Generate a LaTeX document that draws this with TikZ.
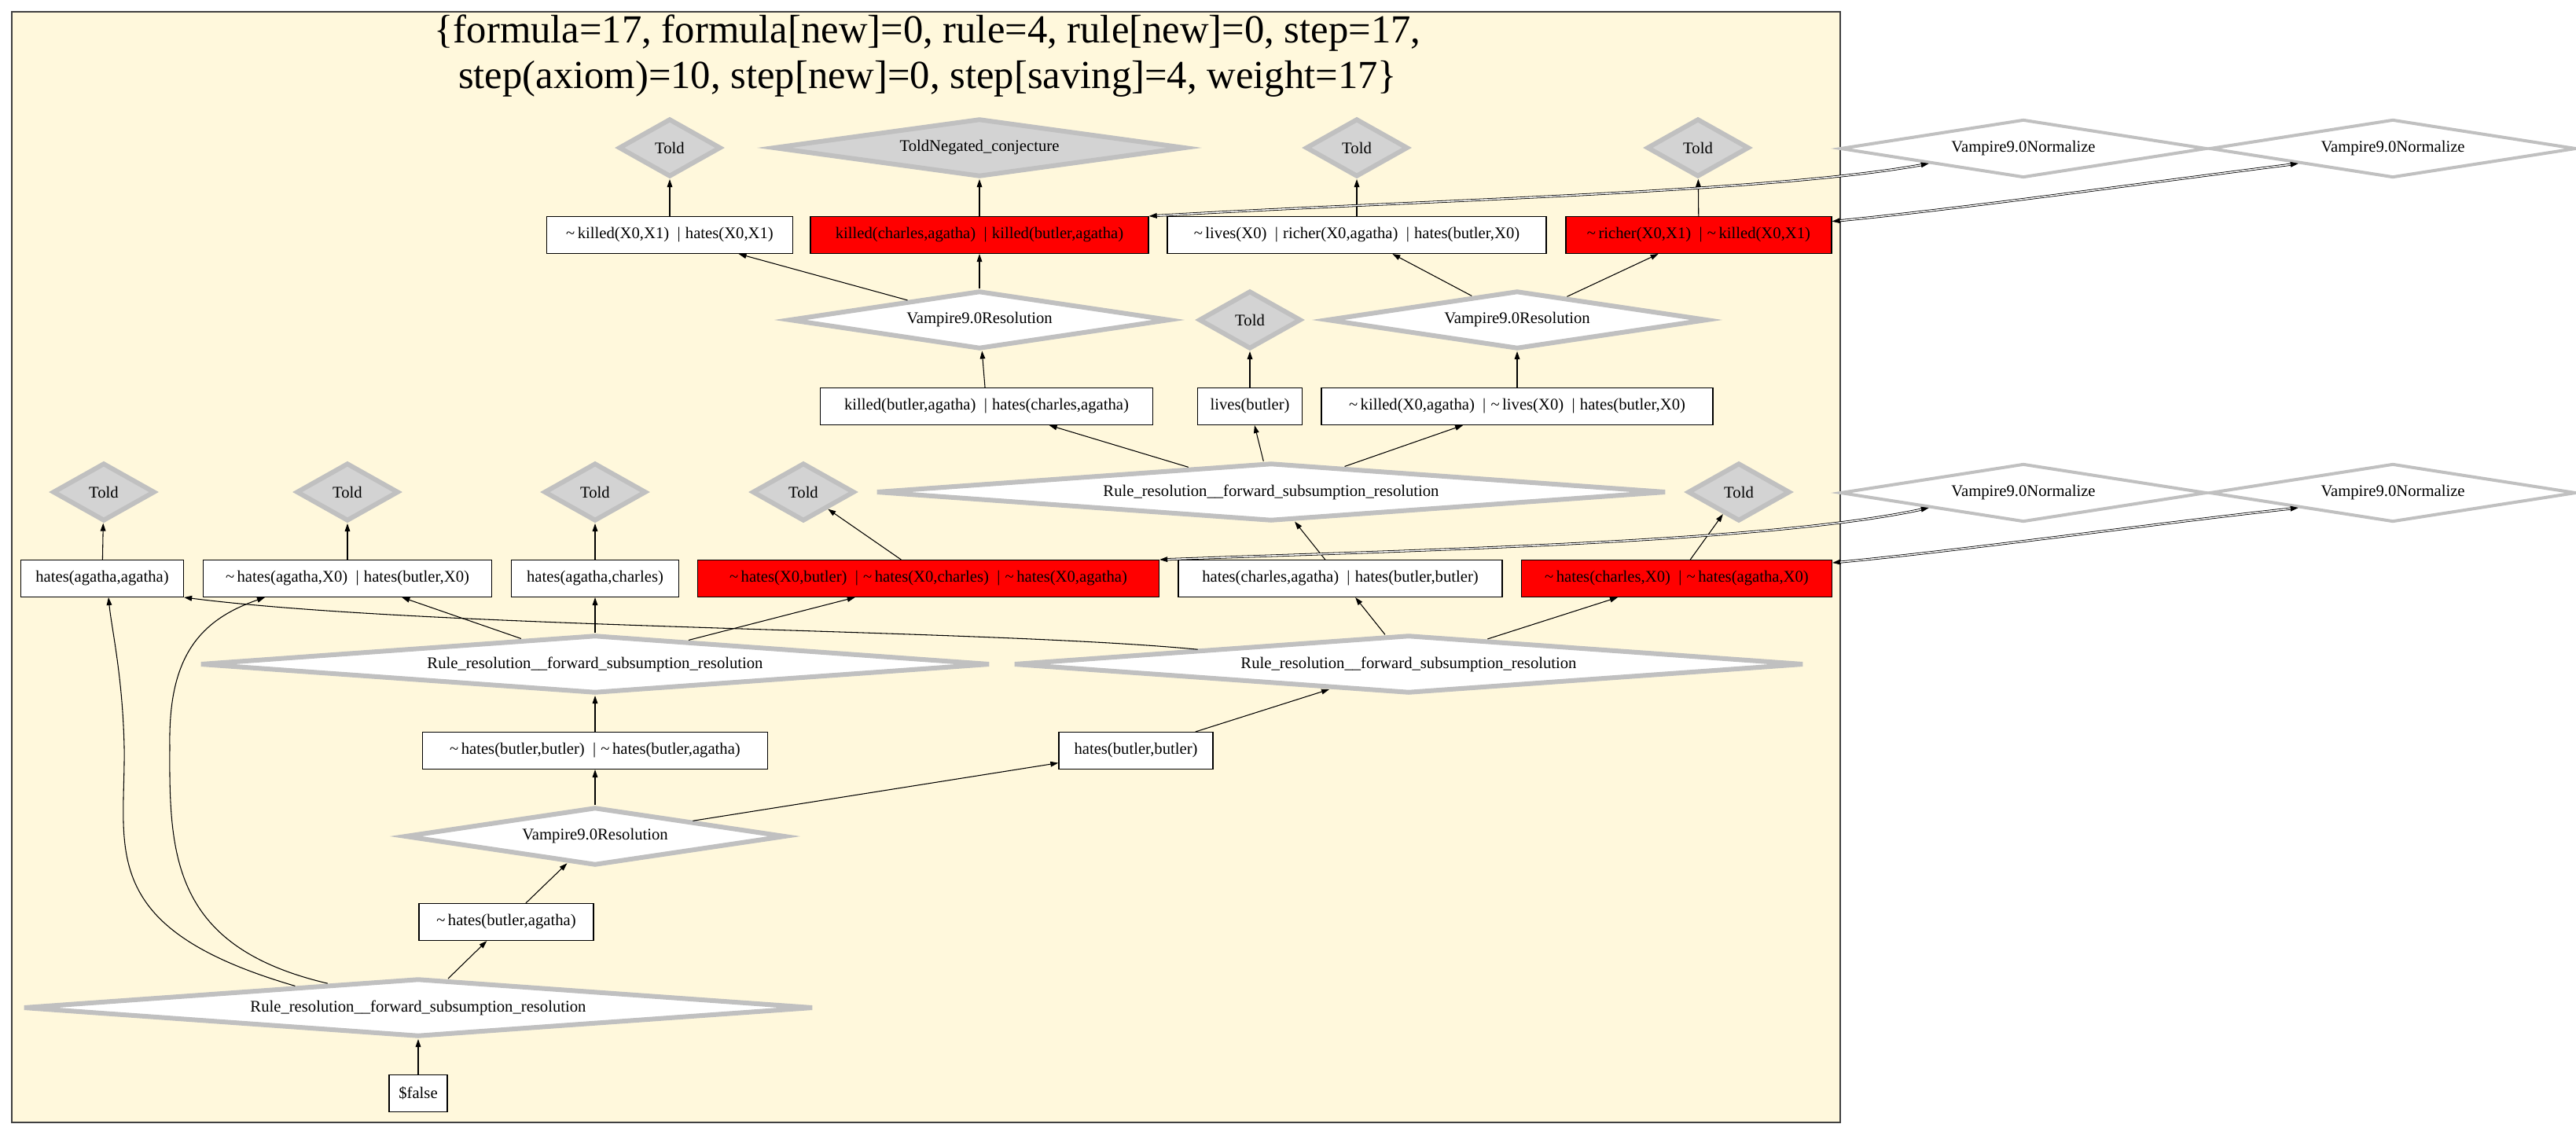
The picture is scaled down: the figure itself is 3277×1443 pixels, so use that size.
\documentclass[tikz,border=0pt]{standalone}
\usepackage{fontspec}
\setmainfont{Liberation Serif}
\usetikzlibrary{shapes.geometric,arrows.meta}
\definecolor{clusterfill}{HTML}{FFF8DC}
\definecolor{rimgray}{HTML}{C0C0C0}
\definecolor{toldfill}{HTML}{D3D3D3}
\newcommand{\nt}{\textasciitilde\,}
\newcommand{\orbar}{\hspace{0.5em}|\hspace{0.3em}}
\begin{document}
\begin{tikzpicture}[x=0.75pt,y=-0.75pt,
  font=\fontsize{15.5}{18.6}\selectfont,
  clause/.style={rectangle, draw=black, line width=1pt, fill=white, minimum height=35pt, inner sep=0pt},
  redclause/.style={clause, fill=red},
  told/.style={diamond, draw=rimgray, fill=toldfill, line width=4.5pt, inner sep=0pt,
    minimum width=97.5pt, minimum height=55.5pt, shape aspect=1.76},
  toldwide/.style={told, minimum width=393pt, shape aspect=7.1},
  resol/.style={diamond, draw=rimgray, fill=white, line width=4.5pt, inner sep=0pt,
    minimum width=363pt, minimum height=55.5pt, shape aspect=6.5},
  ruleres/.style={resol, minimum width=753.5pt, shape aspect=13.6},
  normbox/.style={diamond, draw=rimgray, fill=white, line width=3pt, inner sep=0pt,
    minimum width=349.5pt, minimum height=55.5pt, shape aspect=6.3},
  link/.style={draw=black, line width=0.8pt, -{Triangle[length=7.5pt,width=5pt]}},
  twin/.style={draw=black, line width=0.6pt, double=white, double distance=1.1pt,
    {Triangle[length=7.5pt,width=5pt]}-{Triangle[length=7.5pt,width=5pt]}}
]
\useasboundingbox (0,0) rectangle (3277,1443);

% proof cluster
\draw[fill=clusterfill, draw=black!75, line width=1pt] (15,15) rectangle (2341,1428);
\node[font=\fontsize{38}{43}\selectfont, align=center] (title) at (1180,71)
  {\{formula=17, formula[new]=0, rule=4, rule[new]=0, step=17,\\
   step(axiom)=10, step[new]=0, step[saving]=4, weight=17\}};

% top layer
\node[told] (t1) at (852,188) {Told};
\node[toldwide] (tn) at (1246,188) {ToldNegated\_conjecture};
\node[told] (t2) at (1726,188) {Told};
\node[told] (t3) at (2160,188) {Told};

\node[clause, minimum width=234.75pt] (c1) at (852,299) {\nt killed(X0,X1)\orbar hates(X0,X1)};
\node[redclause, minimum width=322.5pt] (c2) at (1246,299) {killed(charles,agatha)\orbar killed(butler,agatha)};
\node[clause, minimum width=361.5pt] (c3) at (1726,299) {\nt lives(X0)\orbar richer(X0,agatha)\orbar hates(butler,X0)};
\node[redclause, minimum width=253.5pt] (c4) at (2161,299) {\nt richer(X0,X1)\orbar\nt killed(X0,X1)};

\node[resol] (r1) at (1246,407) {Vampire9.0Resolution};
\node[told] (t4) at (1590,407) {Told};
\node[resol] (r2) at (1930,407) {Vampire9.0Resolution};

\node[clause, minimum width=317.25pt] (c5) at (1255,517) {killed(butler,agatha)\orbar hates(charles,agatha)};
\node[clause, minimum width=99.75pt] (c6) at (1590,517) {lives(butler)};
\node[clause, minimum width=373.5pt] (c7) at (1930,517) {\nt killed(X0,agatha)\orbar\nt lives(X0)\orbar hates(butler,X0)};

% middle layer
\node[told] (t5) at (132,626) {Told};
\node[told] (t6) at (442,626) {Told};
\node[told] (t7) at (757,626) {Told};
\node[told] (t8) at (1022,626) {Told};
\node[ruleres] (rr1) at (1617,626) {Rule\_resolution\_\_forward\_subsumption\_resolution};
\node[told] (t9) at (2212,626) {Told};

\node[clause, minimum width=155.25pt] (c8) at (130,736) {hates(agatha,agatha)};
\node[clause, minimum width=275.25pt] (c9) at (442,736) {\nt hates(agatha,X0)\orbar hates(butler,X0)};
\node[clause, minimum width=159.75pt] (c10) at (757,736) {hates(agatha,charles)};
\node[redclause, minimum width=440.25pt] (c11) at (1181,736) {\nt hates(X0,butler)\orbar\nt hates(X0,charles)\orbar\nt hates(X0,agatha)};
\node[clause, minimum width=309pt] (c12) at (1705,736) {hates(charles,agatha)\orbar hates(butler,butler)};
\node[redclause, minimum width=296.25pt] (c13) at (2133,736) {\nt hates(charles,X0)\orbar\nt hates(agatha,X0)};

\node[ruleres] (rr2) at (757,845) {Rule\_resolution\_\_forward\_subsumption\_resolution};
\node[ruleres] (rr3) at (1792,845) {Rule\_resolution\_\_forward\_subsumption\_resolution};

% bottom layer
\node[clause, minimum width=329.25pt] (c14) at (757,955) {\nt hates(butler,butler)\orbar\nt hates(butler,agatha)};
\node[clause, minimum width=147pt] (c15) at (1445,955) {hates(butler,butler)};
\node[resol] (r3) at (757,1064) {Vampire9.0Resolution};
\node[clause, minimum width=166.5pt] (c16) at (644,1173) {\nt hates(butler,agatha)};
\node[ruleres] (rr4) at (532,1282) {Rule\_resolution\_\_forward\_subsumption\_resolution};
\node[clause, minimum width=55.5pt] (c17) at (532,1391) {\$false};

% normalisation steps outside the cluster
\node[normbox] (n1) at (2574,189) {Vampire9.0Normalize};
\node[normbox] (n2) at (3044,189) {Vampire9.0Normalize};
\node[normbox] (n3) at (2574,627) {Vampire9.0Normalize};
\node[normbox] (n4) at (3044,627) {Vampire9.0Normalize};

% derivation edges
\draw[link] (c1) -- (t1);
\draw[link] (c2) -- (tn);
\draw[link] (c3) -- (t2);
\draw[link] (c4) -- (t3);
\draw[link] (r1) -- (c1);
\draw[link] (r1) -- (c2);
\draw[link] (r2) -- (c3);
\draw[link] (r2) -- (c4);
\draw[link] (c5) -- (r1);
\draw[link] (c6) -- (t4);
\draw[link] (c7) -- (r2);
\draw[link] (rr1) -- (c5);
\draw[link] (rr1) -- (c6);
\draw[link] (rr1) -- (c7);

\draw[link] (c8) -- (t5);
\draw[link] (c9) -- (t6);
\draw[link] (c10) -- (t7);
\draw[link] (c11) -- (t8);
\draw[link] (c13) -- (t9);
\draw[link] (c12) -- (rr1);
\draw[link] (rr2) -- (c9);
\draw[link] (rr2) -- (c10);
\draw[link] (rr2) -- (c11);
\draw[link] (rr3) -- (c12);
\draw[link] (rr3) -- (c13);
\draw[link] (rr3.176) .. controls (1250,800) and (550,800) .. (c8.south east);

\draw[link] (c14) -- (rr2);
\draw[link] (c15) -- (rr3);
\draw[link] (r3) -- (c14);
\draw[link] (r3) -- (c15);
\draw[link] (c16) -- (r3);
\draw[link] (rr4) -- (c16);
\draw[link] (c17) -- (rr4);
\draw[link] (rr4.170) .. controls (120,1180) and (160,1080) .. (158,950)
  .. controls (156,860) and (142,800) .. ([xshift=6pt]c8.south);
\draw[link] (rr4.165) .. controls (220,1205) and (215,1090) .. (216,950)
  .. controls (214,840) and (250,790) .. ([xshift=-78.75pt]c9.south);

% clause <-> normalisation links
\draw[twin] (c2.north east) .. controls (1800,255) and (2250,245) .. (n1.189);
\draw[twin] ([yshift=-5pt]c4.north east) .. controls (2500,265) and (2750,230) .. (n2.189);
\draw[twin] (c11.north east) .. controls (1800,700) and (2250,690) .. (n3.189);
\draw[twin] ([yshift=-3pt]c13.north east) .. controls (2500,700) and (2750,665) .. (n4.189);
\end{tikzpicture}
\end{document}
